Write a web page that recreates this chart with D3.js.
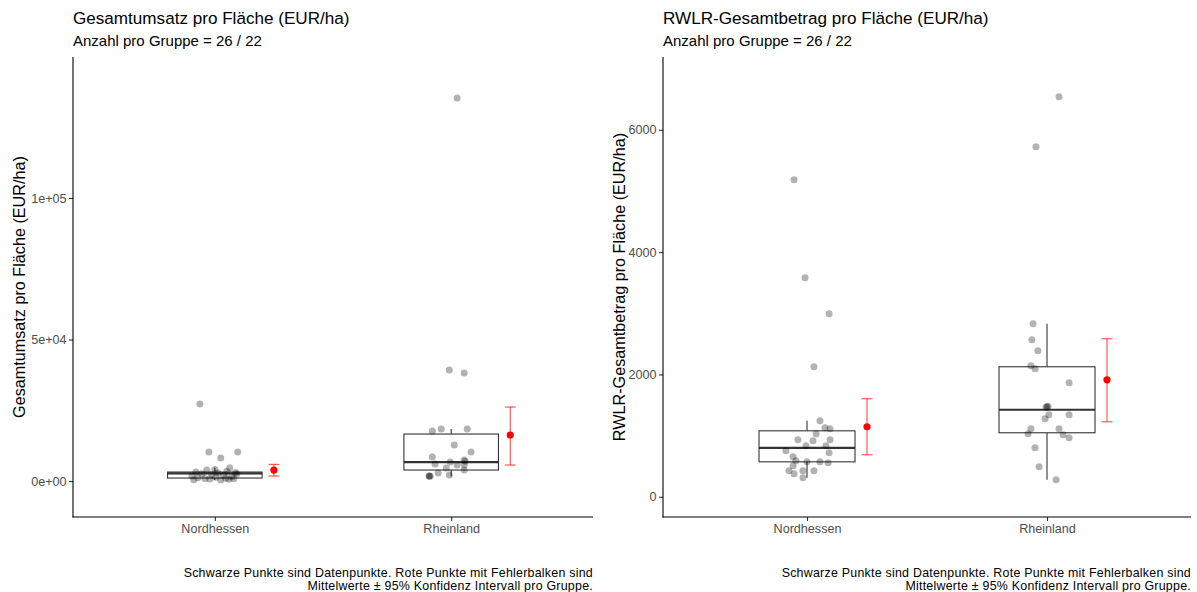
<!DOCTYPE html>
<html>
<head>
<meta charset="utf-8">
<script src="https://cdn.jsdelivr.net/npm/d3@7"></script>
<style>
  body { margin: 0; background: #fff; }
  svg { display: block; font-family: "Liberation Sans", Arial, sans-serif; }
</style>
</head>
<body>
<svg id="chart" width="1197" height="592"></svg>
<script>
// ---- categories ----
const groups = ["Nordhessen", "Rheinland"];
const groupSizes = [26, 22];

// ---- Gesamtumsatz pro Fläche (EUR/ha): single farm values + horizontal jitter (category units) ----
const umsatzNordhessen = [27200, 10250, 10250, 8130, 4700, 4100, 3900, 3500, 3200, 3000, 2800, 2600,
  2500, 2200, 2000, 1800, 1500, 1300, 1200, 1000, 900, 800, 700, 600, 500, 350];
const umsatzNordhessenJitter = [-0.063, -0.025, 0.097, 0.025, 0.063, 0.0, -0.034, 0.051, -0.08, 0.088, 0.013,
  -0.055, 0.093, -0.013, 0.038, -0.097, 0.072, 0.004, -0.072, 0.046, -0.042, 0.08, -0.021, 0.059, -0.089, 0.025];
const umsatzRheinland = [135350, 39230, 38170, 18380, 17670, 18380, 12720, 10250, 8480, 7420, 7000, 6710,
  6010, 5650, 5650, 4590, 3890, 2830, 2120, 1770, 1700, 1800];
const umsatzRheinlandJitter = [0.025, -0.008, 0.055, -0.042, -0.08, 0.068, 0.013, 0.084, -0.08, 0.055, 0.059, -0.004,
  -0.068, 0.025, 0.055, -0.021, 0.055, -0.055, -0.008, -0.093, -0.089, -0.093];

// box statistics per group
const umsatzQ1 = [1060, 3890];
const umsatzMedian = [2720, 6710];
const umsatzQ3 = [3180, 16610];
const umsatzWhiskerLow = [350, 1700];
const umsatzWhiskerHigh = [4700, 18380];
// mean ± 95% CI per group
const umsatzMean = [3890, 16260];
const umsatzCiLow = [1770, 5650];
const umsatzCiHigh = [5900, 26150];
// axis
const umsatzDomain = [-12700, 149800];
const umsatzTicks = [0, 50000, 100000];
const umsatzTickLabels = ["0e+00", "5e+04", "1e+05"];

// ---- RWLR-Gesamtbetrag pro Fläche (EUR/ha) ----
const rwlrNordhessen = [5184, 3581, 2993, 2126, 1243, 1128, 1112, 1030, 932, 916, 932, 834, 834, 752,
  720, 654, 589, 572, 572, 556, 507, 425, 425, 425, 376, 311];
const rwlrNordhessenJitter = [-0.054, -0.008, 0.092, 0.029, 0.054, 0.075, 0.096, 0.038, -0.038, 0.025, 0.096, -0.004,
  0.079, -0.088, 0.092, -0.058, -0.046, 0.0, 0.054, 0.088, -0.058, -0.075, -0.017, 0.029, -0.054, -0.017];
const rwlrRheinland = [6541, 5724, 2829, 2567, 2388, 2142, 2093, 1864, 1472, 1480, 1465, 1341, 1276, 1341,
  1112, 1030, 1112, 1014, 965, 801, 491, 278];
const rwlrRheinlandJitter = [0.05, -0.046, -0.058, -0.063, -0.038, -0.067, -0.05, 0.092, 0.0, 0.004, -0.004, 0.008,
  -0.008, 0.092, -0.067, -0.079, 0.05, 0.067, 0.092, -0.05, -0.033, 0.038];

const rwlrQ1 = [572, 1047];
const rwlrMedian = [801, 1423];
const rwlrQ3 = [1079, 2126];
const rwlrWhiskerLow = [311, 278];
const rwlrWhiskerHigh = [1243, 2829];
const rwlrMean = [1145, 1913];
const rwlrCiLow = [687, 1226];
const rwlrCiHigh = [1603, 2584];
const rwlrDomain = [-330, 7190];
const rwlrTicks = [0, 2000, 4000, 6000];
const rwlrTickLabels = ["0", "2000", "4000", "6000"];

const captionLines = [
  "Schwarze Punkte sind Datenpunkte. Rote Punkte mit Fehlerbalken sind",
  "Mittelwerte ± 95% Konfidenz Intervall pro Gruppe."
];

// ---- assemble panel descriptions ----
function buildGroups(values, jitters, q1, med, q3, wlo, whi, mean, clo, chi) {
  return groups.map((g, i) => ({
    name: g, idx: i + 1,
    points: values[i].map((v, j) => ({ v, jit: jitters[i][j] })),
    q1: q1[i], med: med[i], q3: q3[i], wlo: wlo[i], whi: whi[i],
    mean: mean[i], clo: clo[i], chi: chi[i]
  }));
}

const panels = [
  {
    title: "Gesamtumsatz pro Fläche (EUR/ha)",
    yTitle: "Gesamtumsatz pro Fläche (EUR/ha)",
    left: 73, right: 593, yTitleX: 25,
    domain: umsatzDomain, ticks: umsatzTicks, tickLabels: umsatzTickLabels,
    data: buildGroups([umsatzNordhessen, umsatzRheinland], [umsatzNordhessenJitter, umsatzRheinlandJitter],
      umsatzQ1, umsatzMedian, umsatzQ3, umsatzWhiskerLow, umsatzWhiskerHigh, umsatzMean, umsatzCiLow, umsatzCiHigh)
  },
  {
    title: "RWLR-Gesamtbetrag pro Fläche (EUR/ha)",
    yTitle: "RWLR-Gesamtbetrag pro Fläche (EUR/ha)",
    left: 663, right: 1191, yTitleX: 625,
    domain: rwlrDomain, ticks: rwlrTicks, tickLabels: rwlrTickLabels,
    data: buildGroups([rwlrNordhessen, rwlrRheinland], [rwlrNordhessenJitter, rwlrRheinlandJitter],
      rwlrQ1, rwlrMedian, rwlrQ3, rwlrWhiskerLow, rwlrWhiskerHigh, rwlrMean, rwlrCiLow, rwlrCiHigh)
  }
];

const svg = d3.select("#chart");
const plotTop = 57, plotBottom = 517;
const boxHalf = 0.2, meanOffset = 0.25, capHalf = 0.023;

panels.forEach(p => {
  const x = d3.scaleLinear().domain([0.4, 2.6]).range([p.left, p.right]);
  const y = d3.scaleLinear().domain(p.domain).range([plotBottom, plotTop]);
  const g = svg.append("g");

  // titles
  g.append("text").attr("x", p.left).attr("y", 24)
    .attr("font-size", 17.1).attr("fill", "#000").text(p.title);
  g.append("text").attr("x", p.left).attr("y", 46)
    .attr("font-size", 15).attr("fill", "#000")
    .text("Anzahl pro Gruppe = " + groupSizes.join(" / "));

  // box plots
  const boxes = g.append("g");
  p.data.forEach(d => {
    boxes.append("line")
      .attr("x1", x(d.idx)).attr("x2", x(d.idx))
      .attr("y1", y(d.whi)).attr("y2", y(d.q3))
      .attr("stroke", "#333").attr("stroke-width", 1.1);
    boxes.append("line")
      .attr("x1", x(d.idx)).attr("x2", x(d.idx))
      .attr("y1", y(d.q1)).attr("y2", y(d.wlo))
      .attr("stroke", "#333").attr("stroke-width", 1.1);
    boxes.append("rect")
      .attr("x", x(d.idx - boxHalf)).attr("width", x(d.idx + boxHalf) - x(d.idx - boxHalf))
      .attr("y", y(d.q3)).attr("height", y(d.q1) - y(d.q3))
      .attr("fill", "#fff").attr("stroke", "#333").attr("stroke-width", 1.1);
    boxes.append("line")
      .attr("x1", x(d.idx - boxHalf)).attr("x2", x(d.idx + boxHalf))
      .attr("y1", y(d.med)).attr("y2", y(d.med))
      .attr("stroke", "#333").attr("stroke-width", 2.2);
  });

  // jittered data points
  g.append("g").selectAll("circle")
    .data(p.data.flatMap(d => d.points.map(pt => ({ idx: d.idx, ...pt }))))
    .join("circle")
    .attr("cx", d => x(d.idx + d.jit))
    .attr("cy", d => y(d.v))
    .attr("r", 3.5)
    .attr("fill", "#000").attr("fill-opacity", 0.3);

  // mean ± CI
  const ci = g.append("g");
  p.data.forEach(d => {
    const cx = x(d.idx + meanOffset);
    const seg = (x1, y1, x2, y2) => ci.append("line")
      .attr("x1", x1).attr("y1", y1).attr("x2", x2).attr("y2", y2)
      .attr("stroke", "#ff0000").attr("stroke-opacity", 0.7).attr("stroke-width", 1.1);
    seg(cx, y(d.clo), cx, y(d.chi));
    seg(x(d.idx + meanOffset - capHalf), y(d.chi), x(d.idx + meanOffset + capHalf), y(d.chi));
    seg(x(d.idx + meanOffset - capHalf), y(d.clo), x(d.idx + meanOffset + capHalf), y(d.clo));
    ci.append("circle").attr("cx", cx).attr("cy", y(d.mean)).attr("r", 3.6).attr("fill", "#ff0000");
  });

  // axes
  const yAxis = d3.axisLeft(y).tickValues(p.ticks)
    .tickFormat((v, i) => p.tickLabels[i]).tickSize(4).tickPadding(2.5);
  const ya = g.append("g").attr("transform", `translate(${p.left},0)`).call(yAxis);
  const xAxis = d3.axisBottom(x).tickValues([1, 2])
    .tickFormat((v, i) => groups[i]).tickSize(4).tickPadding(3);
  const xa = g.append("g").attr("transform", `translate(0,${plotBottom})`).call(xAxis);
  [ya, xa].forEach(a => {
    a.select(".domain").remove();
    a.selectAll(".tick line").attr("stroke", "#333").attr("stroke-width", 1.1);
    a.selectAll(".tick text").attr("fill", "#4d4d4d").attr("font-size", 12.6)
      .attr("font-family", "Liberation Sans, Arial, sans-serif");
  });
  g.append("line").attr("x1", p.left).attr("x2", p.left).attr("y1", plotTop).attr("y2", plotBottom + 0.5)
    .attr("stroke", "#000").attr("stroke-width", 1.1);
  g.append("line").attr("x1", p.left - 0.5).attr("x2", p.right).attr("y1", plotBottom).attr("y2", plotBottom)
    .attr("stroke", "#000").attr("stroke-width", 1.1);

  // axis title
  g.append("text")
    .attr("transform", `translate(${p.yTitleX},${(plotTop + plotBottom) / 2}) rotate(-90)`)
    .attr("text-anchor", "middle").attr("font-size", 16.2).attr("fill", "#000")
    .text(p.yTitle);

  // caption, right-aligned under each panel
  g.append("text").attr("text-anchor", "end").attr("font-size", 12.4).attr("fill", "#000")
    .attr("letter-spacing", 0.25)
    .selectAll("tspan").data(captionLines).join("tspan")
    .attr("x", p.right).attr("y", (d, i) => 577 + i * 12.5)
    .text(d => d);
});
</script>
</body>
</html>
